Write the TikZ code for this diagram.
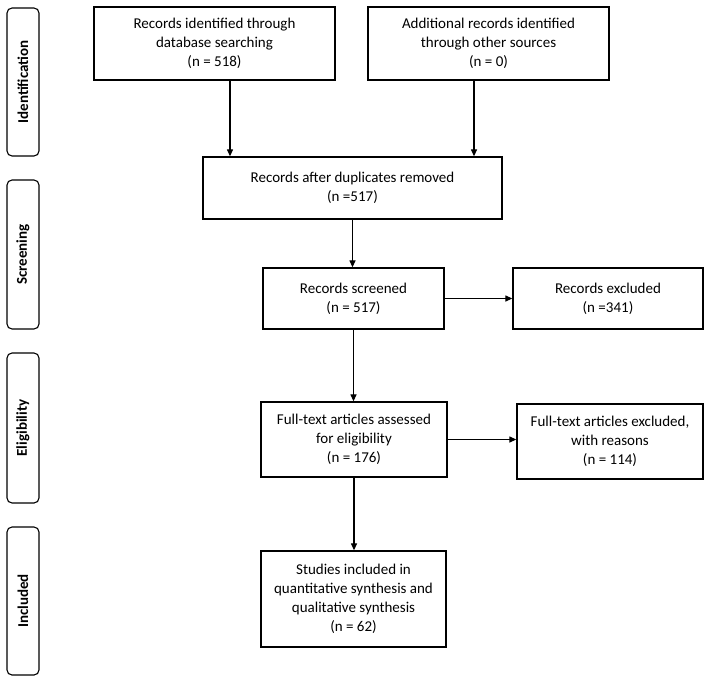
\documentclass[tikz,border=0pt]{standalone}
\usepackage{fontspec}
\setmainfont{Carlito}
\usetikzlibrary{arrows.meta}
\tikzset{
  box/.style={draw, line width=1.3pt, align=center, inner sep=0pt, font=\fontsize{15}{19}\selectfont},
  phase/.style={draw, line width=1.1pt, rounded corners=5pt, rotate=90, minimum height=32pt, inner sep=0pt, font=\fontsize{15}{18}\selectfont\bfseries},
  arr/.style={-{Triangle[length=7pt,width=6pt]}, line width=1.2pt}
}
\begin{document}
\begin{tikzpicture}[x=1pt,y=-1pt]
\useasboundingbox (0,0) rectangle (708,682);
\node [phase, minimum width=148pt] (pid) at (23,82) {Identification};
\node [phase, minimum width=149pt] (pscr) at (23,254.5) {Screening};
\node [phase, minimum width=150pt] (pel) at (23,428) {Eligibility};
\node [phase, minimum width=148pt] (pinc) at (23,601) {Included};
\node [box, minimum width=241pt, minimum height=73pt] (db) at (214.5,43.5) {Records identified through\\database searching\\(n = 518)};
\node [box, minimum width=241pt, minimum height=73pt] (other) at (488.5,43.5) {Additional records identified\\through other sources\\(n = 0)};
\node [box, minimum width=299pt, minimum height=62pt] (dup) at (352.5,188) {Records after duplicates removed\\(n =517)};
\node [box, minimum width=181pt, minimum height=61pt] (screen) at (353.5,298.5) {Records screened\\(n = 517)};
\node [box, minimum width=190pt, minimum height=61pt] (excl) at (608,298.5) {Records excluded\\(n =341)};
\node [box, minimum width=186pt, minimum height=75pt] (full) at (354,439.5) {Full-text articles assessed\\for eligibility\\(n = 176)};
\node [box, minimum width=186pt, minimum height=75pt] (fexcl) at (610,441.5) {Full-text articles excluded,\\with reasons\\(n = 114)};
\node [box, minimum width=185pt, minimum height=96pt] (incl) at (353.5,599) {Studies included in\\quantitative synthesis and\\qualitative synthesis\\(n = 62)};
\coordinate (dbx) at (230,0);
\coordinate (otx) at (474,0);
\draw [arr] (db.south -| dbx) -- (dup.north -| dbx);
\draw [arr] (other.south -| otx) -- (dup.north -| otx);
\draw [arr] (dup.south) -- (dup.south |- screen.north);
\draw [arr] (screen.east) -- (excl.west);
\draw [arr] (screen.south) -- (screen.south |- full.north);
\draw [arr] (full.east) -- (full.east -| fexcl.west);
\draw [arr] (full.south) -- (full.south |- incl.north);
\end{tikzpicture}
\end{document}
